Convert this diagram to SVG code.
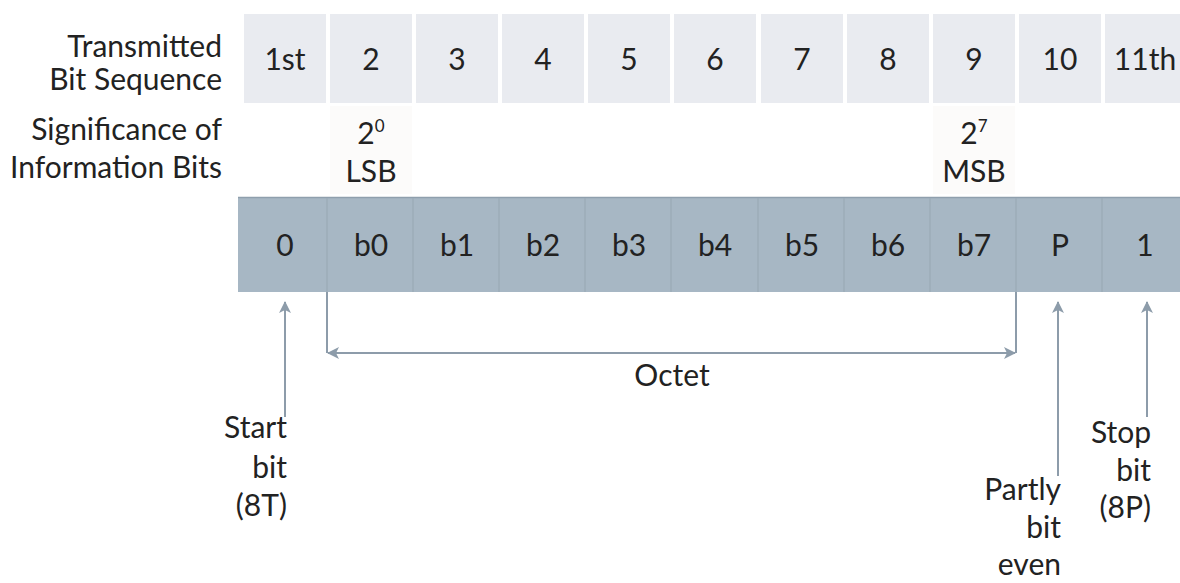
<svg xmlns="http://www.w3.org/2000/svg" width="1180" height="583" viewBox="0 0 1180 583">
<style>
text{font-family:Lato,"Open Sans","Liberation Sans",sans-serif;font-size:30px;fill:#222;}
.c{text-anchor:middle;}
.r{text-anchor:end;}
.top{fill:#e9ebf0;}
.hl{fill:#fcfbfa;}
.sep{stroke:#9cacb9;stroke-width:1.5;}
.conn{stroke:#8d9caa;stroke-width:2;fill:none;}
</style>
<defs>
<marker id="ah" viewBox="0 0 12 12" refX="11" refY="6" markerWidth="12" markerHeight="12" markerUnits="userSpaceOnUse" orient="auto-start-reverse">
<path d="M0,0 L12,6 L0,12 L3,6 z" fill="#8d9caa"/>
</marker>
</defs>
<rect width="1180" height="583" fill="#fff"/>
<g id="labels">
<text class="r" x="222" y="57">Transmitted</text>
<text class="r" x="222" y="90">Bit Sequence</text>
<text class="r" x="222" y="140">Significance of</text>
<text class="r" x="222" y="178">Information Bits</text>
</g>
<g id="seq-row">
<rect class="top" x="244" y="14" width="82" height="89"/>
<rect class="top" x="330" y="14" width="82" height="89"/>
<rect class="top" x="416" y="14" width="82" height="89"/>
<rect class="top" x="502" y="14" width="82" height="89"/>
<rect class="top" x="588" y="14" width="82" height="89"/>
<rect class="top" x="674" y="14" width="82" height="89"/>
<rect class="top" x="761" y="14" width="82" height="89"/>
<rect class="top" x="847" y="14" width="82" height="89"/>
<rect class="top" x="933" y="14" width="82" height="89"/>
<rect class="top" x="1019" y="14" width="82" height="89"/>
<rect class="top" x="1105" y="14" width="75" height="89"/>
<text class="c" x="285" y="70">1st</text>
<text class="c" x="371" y="70">2</text>
<text class="c" x="457" y="70">3</text>
<text class="c" x="543" y="70">4</text>
<text class="c" x="629" y="70">5</text>
<text class="c" x="715" y="70">6</text>
<text class="c" x="802" y="70">7</text>
<text class="c" x="888" y="70">8</text>
<text class="c" x="974" y="70">9</text>
<text class="c" x="1060" y="70">10</text>
<text class="c" x="1145" y="70">11th</text>
</g>
<g id="sig-row">
<rect class="hl" x="330" y="106" width="82" height="88"/>
<rect class="hl" x="933" y="106" width="82" height="88"/>
<text class="c" x="371" y="144">2<tspan font-size="17" dy="-12">0</tspan></text>
<text class="c" x="371" y="182">LSB</text>
<text class="c" x="974" y="144">2<tspan font-size="17" dy="-12">7</tspan></text>
<text class="c" x="974" y="182">MSB</text>
</g>
<g id="bit-row">
<rect x="238" y="197" width="942" height="95" fill="#a7b7c4"/>
<line x1="238" y1="197.5" x2="1180" y2="197.5" stroke="#8f9fad" stroke-width="1.5"/>
<line class="sep" x1="327" y1="198" x2="327" y2="292"/>
<line class="sep" x1="413" y1="198" x2="413" y2="292"/>
<line class="sep" x1="499" y1="198" x2="499" y2="292"/>
<line class="sep" x1="585" y1="198" x2="585" y2="292"/>
<line class="sep" x1="671" y1="198" x2="671" y2="292"/>
<line class="sep" x1="758" y1="198" x2="758" y2="292"/>
<line class="sep" x1="844" y1="198" x2="844" y2="292"/>
<line class="sep" x1="930" y1="198" x2="930" y2="292"/>
<line class="sep" x1="1016" y1="198" x2="1016" y2="292"/>
<line class="sep" x1="1102" y1="198" x2="1102" y2="292"/>
<text class="c" x="285" y="256">0</text>
<text class="c" x="371" y="256">b0</text>
<text class="c" x="457" y="256">b1</text>
<text class="c" x="543" y="256">b2</text>
<text class="c" x="629" y="256">b3</text>
<text class="c" x="715" y="256">b4</text>
<text class="c" x="802" y="256">b5</text>
<text class="c" x="888" y="256">b6</text>
<text class="c" x="974" y="256">b7</text>
<text class="c" x="1060" y="256">P</text>
<text class="c" x="1145" y="256">1</text>
</g>
<g id="connectors">
<line class="conn" x1="285" y1="417" x2="285" y2="302" marker-end="url(#ah)"/>
<line class="conn" x1="1058" y1="476" x2="1058" y2="302" marker-end="url(#ah)"/>
<line class="conn" x1="1147" y1="417" x2="1147" y2="302" marker-end="url(#ah)"/>
<polyline class="conn" points="327,292 327,353"/>
<polyline class="conn" points="1016,292 1016,353"/>
<line class="conn" x1="328" y1="353" x2="1015" y2="353" marker-start="url(#ah)" marker-end="url(#ah)"/>
</g>
<g id="octet-label"><text class="c" x="672" y="386">Octet</text></g>
<g id="start-label">
<text class="r" x="287" y="438">Start</text>
<text class="r" x="287" y="478">bit</text>
<text class="r" x="287" y="516">(8T)</text>
</g>
<g id="parity-label">
<text class="r" x="1061" y="500">Partly</text>
<text class="r" x="1061" y="538">bit</text>
<text class="r" x="1061" y="575">even</text>
</g>
<g id="stop-label">
<text class="r" x="1151" y="443">Stop</text>
<text class="r" x="1151" y="481">bit</text>
<text class="r" x="1151" y="518">(8P)</text>
</g>
</svg>
